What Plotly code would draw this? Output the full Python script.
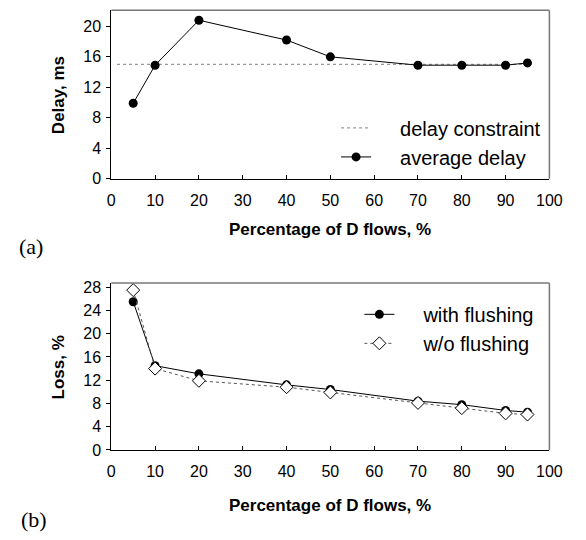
import plotly.graph_objects as go

# ---- data ----
x_pct = [5, 10, 20, 40, 50, 70, 80, 90, 95]
avg_delay = [9.9, 14.9, 20.8, 18.2, 16.0, 14.9, 14.9, 14.9, 15.2]
constraint_x = [1.3, 95.4]
constraint_y = [15, 15]
loss_with = [25.5, 14.5, 13.1, 11.2, 10.4, 8.4, 7.8, 6.8, 6.5]
loss_without = [27.5, 14.0, 11.9, 10.8, 9.9, 8.1, 7.2, 6.3, 6.1]
x_ticks = [0, 10, 20, 30, 40, 50, 60, 70, 80, 90, 100]
delay_ticks = [0, 4, 8, 12, 16, 20]
loss_ticks = [0, 4, 8, 12, 16, 20, 24, 28]

W, H = 586, 540
FONT = "Liberation Sans, Arial, sans-serif"
PAD = "\u2003\u2009"  # gap between legend symbol and text

fig = go.Figure()

fig.add_trace(go.Scatter(x=constraint_x, y=constraint_y, mode="lines",
                         name=PAD + "delay constraint",
                         line=dict(color="#999999", width=1.2, dash="dot"),
                         xaxis="x", yaxis="y", legend="legend"))
fig.add_trace(go.Scatter(x=x_pct, y=avg_delay, mode="lines+markers",
                         name=PAD + "average delay",
                         line=dict(color="black", width=1),
                         marker=dict(symbol="circle", size=9, color="black"),
                         xaxis="x", yaxis="y", legend="legend"))

fig.add_trace(go.Scatter(x=x_pct, y=loss_with, mode="lines+markers",
                         name=PAD + "with flushing",
                         line=dict(color="black", width=1),
                         marker=dict(symbol="circle", size=9, color="black"),
                         xaxis="x2", yaxis="y2", legend="legend2"))
fig.add_trace(go.Scatter(x=x_pct, y=loss_without, mode="lines+markers",
                         name=PAD + "w/o flushing",
                         line=dict(color="#555555", width=1, dash="dot"),
                         marker=dict(symbol="diamond", size=10, color="white",
                                     line=dict(color="black", width=1)),
                         xaxis="x2", yaxis="y2", legend="legend2"))

xdom = [110.5 / W, 561.7 / W]
ydom1 = [1 - 179 / H, 1 - 6.5 / H]
ydom2 = [1 - 457 / H, 1 - 286 / H]

xcommon = dict(range=[0, 100], tickvals=x_ticks, ticks="inside", ticklen=4,
               tickcolor="black", showline=True, linecolor="black", linewidth=1,
               showgrid=False, zeroline=False, domain=xdom, ticklabelstandoff=7,
               tickfont=dict(family=FONT, size=16, color="black"))
ycommon = dict(ticks="outside", ticklen=4, tickcolor="black", showline=True,
               linecolor="black", linewidth=1, showgrid=False, zeroline=False,
               ticklabelstandoff=2,
               tickfont=dict(family=FONT, size=16, color="black"))

fig.update_layout(
    width=W, height=H, margin=dict(l=0, r=0, t=0, b=0),
    paper_bgcolor="white", plot_bgcolor="white",
    xaxis=dict(anchor="y", **xcommon),
    yaxis=dict(anchor="x", domain=ydom1, range=[0, 22.1], tickvals=delay_ticks, **ycommon),
    xaxis2=dict(anchor="y2", **xcommon),
    yaxis2=dict(anchor="x2", domain=ydom2, range=[0, 28.7], tickvals=loss_ticks, **ycommon),
    legend=dict(x=342 / W, y=1 - 107 / H, xanchor="left", yanchor="top",
                bgcolor="rgba(0,0,0,0)", font=dict(family=FONT, size=20, color="black"),
                tracegroupgap=0),
    legend2=dict(x=366 / W, y=1 - 298 / H, xanchor="left", yanchor="top",
                 bgcolor="rgba(0,0,0,0)", font=dict(family=FONT, size=20, color="black"),
                 tracegroupgap=0),
    showlegend=True,
)

# gray top/right frame lines
for xr, yr in [("x domain", "y domain"), ("x2 domain", "y2 domain")]:
    fig.add_shape(type="line", xref=xr, yref=yr, x0=0, x1=1, y0=1, y1=1,
                  line=dict(color="#777777", width=1.5))
    fig.add_shape(type="line", xref=xr, yref=yr, x0=1, x1=1, y0=0, y1=1,
                  line=dict(color="#777777", width=1.5))

annots = [
    dict(text="<b>Percentage of D flows, %</b>", x=336 / W, y=1 - 231 / H, size=17, angle=0, fam=FONT),
    dict(text="<b>Percentage of D flows, %</b>", x=336 / W, y=1 - 514 / H, size=17, angle=0, fam=FONT),
    dict(text="<b>Delay, ms</b>", x=56 / W, y=1 - 93 / H, size=17, angle=-90, fam=FONT),
    dict(text="<b>Loss, %</b>", x=56 / W, y=1 - 372 / H, size=17, angle=-90, fam=FONT),
    dict(text="(a)", x=28 / W, y=1 - 248 / H, size=22, angle=0, fam="Liberation Serif, Times New Roman, serif"),
    dict(text="(b)", x=31 / W, y=1 - 528 / H, size=22, angle=0, fam="Liberation Serif, Times New Roman, serif"),
]
for a in annots:
    fig.add_annotation(text=a["text"], x=a["x"], y=a["y"], xref="paper", yref="paper",
                       xanchor="center", yanchor="middle", showarrow=False, textangle=a["angle"],
                       font=dict(family=a["fam"], size=a["size"], color="black"))

fig.write_html("out.html")
